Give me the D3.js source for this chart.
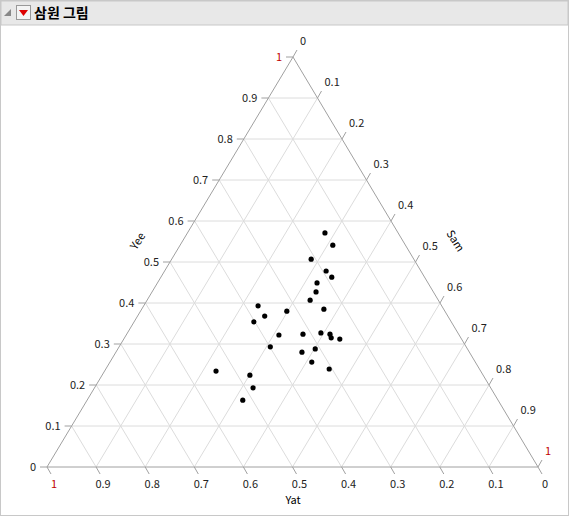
<!DOCTYPE html><html><head><meta charset="utf-8">
<script src="https://cdn.jsdelivr.net/npm/d3@7"></script>
<style>body{margin:0;background:#fff;font-family:"Segoe UI","Noto Sans CJK KR",Arial,sans-serif}</style>
</head><body><svg id="c" width="569" height="516"></svg>
<script>
const title = "삼원 그림";
const axisNames = ["Yee","Yat","Sam"];
const ticks = [0,0.1,0.2,0.3,0.4,0.5,0.6,0.7,0.8,0.9,1];
const yee = [0.571,0.541,0.507,0.478,0.463,0.449,0.427,0.407,0.393,0.368,0.380,0.385,0.354,0.322,0.324,0.327,0.324,0.315,0.312,0.293,0.288,0.280,0.256,0.239,0.234,0.224,0.193,0.163];
const sam = [0.280,0.311,0.284,0.329,0.348,0.325,0.334,0.332,0.233,0.259,0.298,0.371,0.244,0.311,0.359,0.394,0.414,0.421,0.440,0.308,0.402,0.379,0.411,0.455,0.227,0.301,0.323,0.317];

const svg = d3.select("#c");
// frame
svg.append("rect").attr("x",0.5).attr("y",0.5).attr("width",568).attr("height",515).attr("fill","#fff").attr("stroke","#c8c8c8");
svg.append("rect").attr("x",1).attr("y",1).attr("width",567).attr("height",24).attr("fill","#e8e8e8").attr("stroke","#c8c8c8");
svg.append("path").attr("d","M4,16 L11,9 L11,16 Z").attr("fill","#888");
svg.append("rect").attr("x",16.5).attr("y",5.5).attr("width",14).attr("height",14).attr("fill","#f4f4f4").attr("stroke","#999");
svg.append("path").attr("d","M19,10 L28,10 L23.5,16 Z").attr("fill","#d00");
svg.append("text").attr("x",34).attr("y",18).attr("font-size",14).attr("font-weight","bold").text(title);

const T=[293,57], L=[47,467], R=[538,467];
const yeeS = d3.scaleLinear().domain([0,1]).range([0,1]);
function pt(a,b,c){ // a Yee, b Yat, c Sam
  return [a*T[0]+b*L[0]+c*R[0], a*T[1]+b*L[1]+c*R[1]];
}
const g = svg.append("g");
// grid
ticks.slice(1,-1).forEach(t=>{
  const lines=[[pt(t,1-t,0),pt(t,0,1-t)],[pt(0,t,1-t),pt(1-t,t,0)],[pt(0,1-t,t),pt(1-t,0,t)]];
  lines.forEach(l=>g.append("line").attr("x1",l[0][0]).attr("y1",l[0][1]).attr("x2",l[1][0]).attr("y2",l[1][1]).attr("stroke","#dcdcdc"));
});
g.append("path").attr("d",`M${T}L${L}L${R}Z`).attr("fill","none").attr("stroke","#a0a0a0");
// ticks & labels
const fmt=d3.format("~g");
ticks.forEach(t=>{
  const red = t===1 ? "#c00000" : "#222";
  // Yee on left edge
  let p=pt(yeeS(t),1-t,0);
  g.append("line").attr("x1",p[0]).attr("y1",p[1]).attr("x2",p[0]-7).attr("y2",p[1]).attr("stroke","#a0a0a0");
  g.append("text").attr("x",p[0]-11).attr("y",p[1]+4).attr("text-anchor","end").attr("font-size",11).attr("fill",red).text(fmt(t));
  // Yat on bottom
  p=pt(0,t,1-t);
  g.append("line").attr("x1",p[0]).attr("y1",p[1]).attr("x2",p[0]+4).attr("y2",p[1]+7).attr("stroke","#a0a0a0");
  g.append("text").attr("x",p[0]+7).attr("y",p[1]+21).attr("text-anchor","middle").attr("font-size",11).attr("fill",red).text(fmt(t));
  // Sam on right
  p=pt(1-t,0,t);
  g.append("line").attr("x1",p[0]).attr("y1",p[1]).attr("x2",p[0]+4).attr("y2",p[1]-7).attr("stroke","#a0a0a0");
  g.append("text").attr("x",p[0]+7).attr("y",p[1]-12).attr("text-anchor","start").attr("font-size",11).attr("fill",red).text(fmt(t));
});
g.append("text").attr("transform","translate(141,243) rotate(-58)").attr("text-anchor","middle").attr("font-size",11).text(axisNames[0]);
g.append("text").attr("x",293).attr("y",504).attr("text-anchor","middle").attr("font-size",11).text(axisNames[1]);
g.append("text").attr("transform","translate(452,243) rotate(58)").attr("text-anchor","middle").attr("font-size",11).text(axisNames[2]);
// points
yee.forEach((a,i)=>{
  const c=sam[i], p=pt(a,1-a-c,c);
  g.append("circle").attr("cx",p[0]).attr("cy",p[1]).attr("r",2.6).attr("fill","#000");
});
</script></body></html>
